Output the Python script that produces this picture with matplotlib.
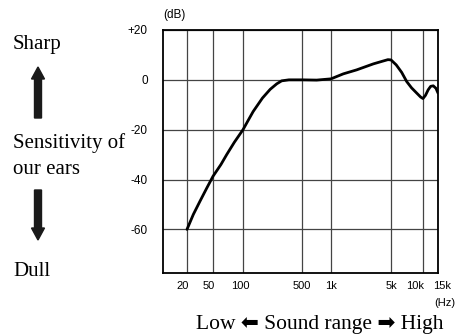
import numpy as np
import matplotlib
matplotlib.use('Agg')
import matplotlib.pyplot as plt
from matplotlib.patches import FancyArrow
from matplotlib.transforms import ScaledTranslation

# Frequency ticks and their labels
freq_ticks = [20, 50, 100, 500, 1000, 5000, 10000, 15000]
freq_labels = ['20', '50', '100', '500', '1k', '5k', '10k', '15k']
db_ticks = [20, 0, -20, -40, -60]
db_labels = ['+20', '0', '-20', '-40', '-60']

# Sensitivity curve (Hz, dB)
curve_hz = [20, 25, 31.6, 40, 50, 60, 68.6, 82, 100, 115, 132, 170, 210, 251, 287,
            350, 500, 710, 1000, 1390, 1990, 3110, 4000, 4600, 5000, 5600, 6300,
            7030, 7800, 8720, 9500, 10000, 10700, 11500, 12300, 13200, 14200, 15000]
curve_db = [-60, -54, -48.7, -43.5, -38.7, -34, -30, -25, -20, -16.3, -12.7, -7.3,
            -3.8, -1.6, -0.4, 0, 0, -0.1, 0.4, 2.4, 4.0, 6.4, 7.5, 8.1, 8.0, 6.0, 3.0,
            -0.7, -3.2, -5.3, -6.9, -7.5, -6.2, -4.0, -2.6, -2.4, -3.4, -5.3]

# the printed axis is only roughly logarithmic, so the scale follows the grid spacing
scale_hz = [8.5, 20, 50, 100, 500, 1000, 5000, 10000, 15000]
scale_pos = [163, 187, 213, 243, 302, 331, 391, 423, 438]
log_knots = np.log10(scale_hz)

# small sideways nudges (px) of the printed frequency labels
label_shift = [-4, -4, -3, 0, 0, 0, -8, 4]


def forward(f):
    f = np.clip(np.asarray(f, dtype=float), 1e-3, None)
    return np.interp(np.log10(f), log_knots, scale_pos)


def inverse(p):
    return 10 ** np.interp(p, scale_pos, log_knots)


fig = plt.figure(figsize=(4.57, 3.36), dpi=100)
ax = fig.add_axes([163 / 457, 1 - 273 / 336, 275 / 457, 243 / 336])
ax.set_xscale('function', functions=(forward, inverse))
ax.set_xlim(8.5, 15000)
ax.set_ylim(-77.5, 20)

ax.plot(curve_hz, curve_db, color='black', lw=2.0, solid_capstyle='round',
        solid_joinstyle='round', zorder=3)

ax.set_xticks(freq_ticks)
ax.set_xticklabels(freq_labels)
ax.set_yticks(db_ticks)
ax.set_yticklabels(db_labels)
ax.minorticks_off()
ax.tick_params(length=0)
ax.tick_params(axis='x', pad=6, labelsize=8)
ax.tick_params(axis='y', pad=11, labelsize=8.5)
for lab in ax.get_xticklabels() + ax.get_yticklabels():
    lab.set_family('Liberation Sans')
for lab, dx in zip(ax.get_xticklabels(), label_shift):
    lab.set_transform(lab.get_transform() + ScaledTranslation(dx / 100, 0, fig.dpi_scale_trans))
ax.grid(True, color='#444444', lw=0.9)
for s in ax.spines.values():
    s.set_linewidth(1.3)

fig.text(174 / 457, 1 - 15 / 336, '(dB)', fontsize=8.5, family='Liberation Sans',
         ha='center', va='center')
fig.text(455 / 457, 1 - 303 / 336, '(Hz)', fontsize=8, family='Liberation Sans',
         ha='right', va='center')
fig.text(320 / 457, 1 - 324 / 336, 'Low \u2b05 Sound range \u27a1 High', fontsize=15.5,
         family=['Liberation Serif', 'DejaVu Sans'], ha='center', va='center')

serif = 'Liberation Serif'
fig.text(13 / 457, 1 - 45 / 336, 'Sharp', fontsize=15, family=serif, va='center')
fig.text(13 / 457, 1 - 143 / 336, 'Sensitivity of', fontsize=15, family=serif, va='center')
fig.text(13 / 457, 1 - 170 / 336, 'our ears', fontsize=15, family=serif, va='center')
fig.text(13 / 457, 1 - 272 / 336, 'Dull', fontsize=15, family=serif, va='center')

# thick up / down arrows between the labels
up = FancyArrow(38 / 457, 1 - 118 / 336, 0, 51 / 336, width=7 / 457,
                head_width=13 / 457, head_length=12 / 336, length_includes_head=True,
                color='#1a1a1a', transform=fig.transFigure)
down = FancyArrow(38 / 457, 1 - 190 / 336, 0, -50 / 336, width=7 / 457,
                  head_width=13 / 457, head_length=12 / 336, length_includes_head=True,
                  color='#1a1a1a', transform=fig.transFigure)
fig.patches.extend([up, down])

fig.savefig('out.png', dpi=100)
